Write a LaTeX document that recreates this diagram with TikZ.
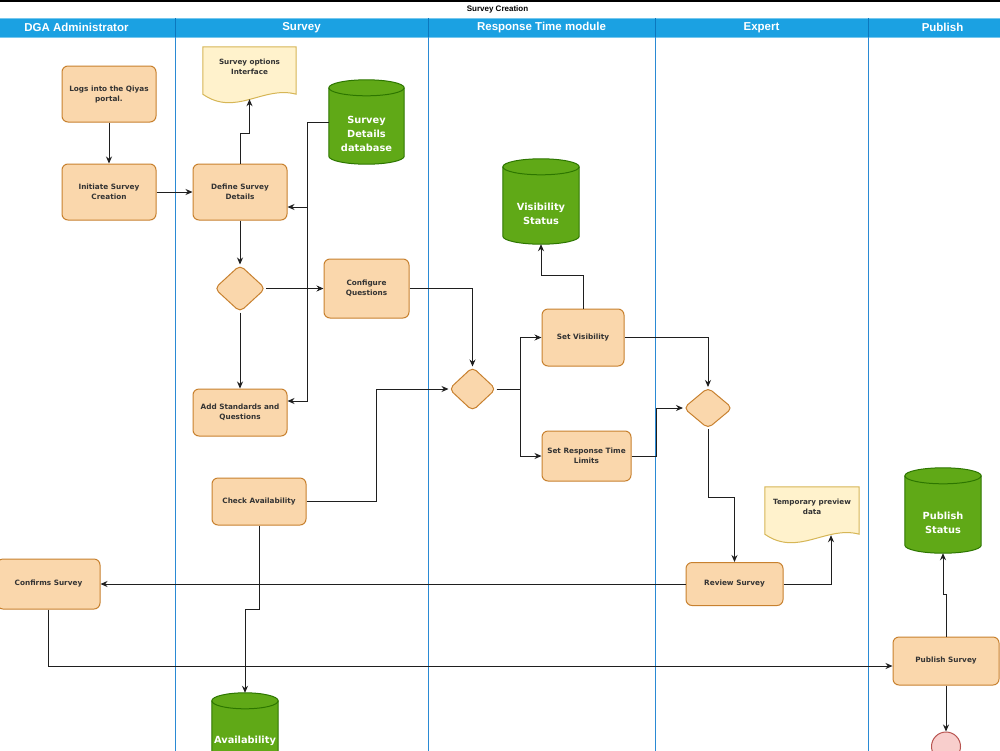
\documentclass[tikz,border=0pt]{standalone}
\usepackage{fontspec}
\setmainfont{DejaVu Sans}
\newfontfamily\hdrfont{Liberation Sans}
\usetikzlibrary{arrows.meta,calc,shapes.geometric}
\pgfdeclarelayer{bg}
\pgfsetlayers{bg,main}
\definecolor{orfill}{HTML}{FAD7AC}
\definecolor{orline}{HTML}{C8812F}
\definecolor{docfill}{HTML}{FFF2CC}
\definecolor{docline}{HTML}{D6B656}
\definecolor{grfill}{HTML}{60A917}
\definecolor{grline}{HTML}{2D7600}
\definecolor{hdr}{HTML}{1BA1E2}
\definecolor{hdrdiv}{HTML}{0B78BE}
\definecolor{lane}{HTML}{2A8AD4}
\definecolor{txt}{HTML}{333333}
\definecolor{endfill}{HTML}{F8CECC}
\definecolor{endline}{HTML}{B85450}
\newcommand\mycyl[1]{%
\begin{pgfonlayer}{bg}
\path[fill=grfill, draw=grline, line width=1pt] let \p1=(#1.north west), \p2=(#1.south east), \n1={(\x2-\x1)/2} in
 (\x1,\y1-8pt) -- (\x1,\y2+8pt) arc[start angle=180,end angle=360,x radius=\n1,y radius=8pt]
 -- (\x2,\y1-8pt) arc[start angle=0,end angle=180,x radius=\n1,y radius=8pt] -- cycle;
\draw[grline, line width=1pt] let \p1=(#1.north west), \p2=(#1.south east), \n1={(\x2-\x1)/2} in
 (\x1,\y1-8pt) arc[start angle=180,end angle=360,x radius=\n1,y radius=8pt];
\end{pgfonlayer}}
\newcommand\mydoc[1]{%
\begin{pgfonlayer}{bg}
\draw[fill=docfill, draw=docline, line width=1pt] (#1.north west) -- (#1.north east) -- ($(#1.south east)+(0,-9)$)
 .. controls ($(#1.south east)+(-33,-18)$) and ($(#1.south west)+(33,14)$) .. ($(#1.south west)+(0,-9)$) -- cycle;
\end{pgfonlayer}}
\tikzset{
 sz/.style 2 args={minimum width=#1pt, minimum height=#2pt},
 proc/.style={rectangle, rounded corners=6pt, draw=orline, fill=orfill, line width=1pt, text=txt,
   font=\fontsize{7.3}{10}\selectfont\bfseries, align=center, inner sep=0pt},
 dec/.style={diamond, draw=orline, fill=orfill, line width=1pt, rounded corners=5pt, inner sep=0pt},
 cylbox/.style={rectangle, inner sep=0pt},
 cyltext/.style={text=white, font=\fontsize{9.8}{13.8}\selectfont\bfseries, align=center, yshift=-12pt},
 docbox/.style={rectangle, inner sep=0pt},
 doctext/.style={text=txt, font=\fontsize{7.2}{9.5}\selectfont\bfseries, align=center, yshift=8pt},
 hdrtext/.style={text=white, font=\hdrfont\fontsize{11.5}{13}\selectfont\bfseries},
 titletext/.style={text=black, font=\hdrfont\fontsize{8}{10}\selectfont\bfseries},
 arr/.style={draw=black!88, line width=0.9pt, -{Stealth[length=7pt,width=6pt]}},
 lanel/.style={draw=lane, line width=0.9pt},
}
\begin{document}
\begin{tikzpicture}[x=1pt,y=-1pt]
\useasboundingbox (0,0) rectangle (1000,750);
\begin{pgfonlayer}{bg}
 \fill[white] (0,0) rectangle (1000,750);
 \draw[black, line width=1.2pt] (-5,1) -- (1005,1);
 \fill[hdr] (-22,18) rectangle (1017,37);
 \draw[hdr!60!white, line width=0.8pt] (-22,18) -- (1017,18) (-22,37) -- (1017,37);
 \foreach \lx in {175,428,655,868} {
   \draw[hdrdiv, line width=0.9pt] (\lx,18) -- (\lx,37);
   \draw[lanel] (\lx,37) -- (\lx,760);
 }
\end{pgfonlayer}

\node[titletext] (title) at (497.5,9) {Survey Creation};
\node[hdrtext] (h1) at (76.5,27.5) {DGA Administrator};
\node[hdrtext] (h2) at (301.5,27.5) {Survey};
\node[hdrtext] (h3) at (541.5,27.5) {Response Time module};
\node[hdrtext] (h4) at (761.5,27.5) {Expert};
\node[hdrtext] (h5) at (942.5,27.5) {Publish};

% process nodes
\node[proc, sz={94}{56}] (logs) at (109,94) {Logs into the Qiyas\\portal.};
\node[proc, sz={94}{56}] (init) at (109,192) {Initiate Survey\\Creation};
\node[proc, sz={94}{56}] (define) at (240,192) {Define Survey\\Details};
\node[dec, sz={51}{47}] (d1) at (240,288.5) {};
\node[proc, sz={85}{59}] (confq) at (366.5,288.5) {Configure\\Questions};
\node[proc, sz={94}{47}] (addstd) at (240,412.5) {Add Standards and\\Questions};
\node[proc, sz={94}{47}] (check) at (259,501.5) {Check Availability};
\node[proc, sz={82}{57}] (setvis) at (583,337.5) {Set Visibility};
\node[proc, sz={89}{50}] (setrt) at (586.5,456) {Set Response Time\\Limits};
\node[dec, sz={47}{44}] (d2) at (472.5,389) {};
\node[dec, sz={49}{41}] (d3) at (708,408) {};
\node[proc, sz={97}{43}] (review) at (734.5,584) {Review Survey};
\node[proc, sz={103}{50}] (confirms) at (48.5,584) {Confirms Survey};
\node[proc, sz={106}{48}] (pubsurvey) at (946,661) {Publish Survey};
\node[circle, draw=endline, fill=endfill, line width=1pt, minimum size=29pt, inner sep=0pt] (endc) at (946,746.5) {};

% documents
\node[docbox, sz={93}{56}, label={[doctext]center:Survey options\\Interface}] (soi) at (249.5,75) {};
\mydoc{soi}
\node[docbox, sz={94}{56}, label={[doctext]center:Temporary preview\\data}] (tmp) at (812,515) {};
\mydoc{tmp}

% cylinders
\node[cylbox, sz={75}{84}, label={[cyltext]center:Survey\\Details\\database}] (svdb) at (366.5,122) {};
\mycyl{svdb}
\node[cylbox, sz={76}{85}, label={[cyltext]center:Visibility\\Status}] (vis) at (541,201.5) {};
\mycyl{vis}
\node[cylbox, sz={76}{85}, label={[cyltext]center:Publish\\Status}] (pubstat) at (943,510.5) {};
\mycyl{pubstat}
\node[cylbox, sz={66}{84}, label={[cyltext, yshift=6pt]center:Availability}] (avail) at (245,735) {};
\mycyl{avail}

% connectors
\draw[arr] (logs) -- (init);
\draw[arr] (init) -- (define);
\draw[arr] (define.north) -- ++(0,-30) -| ($(soi.south)+(0,-4)$);
\draw[arr] (svdb.west) -- ++(-21,0) |- ($(define.east)+(0,15)$);
\draw[arr] (svdb.west) -- ++(-21,0) |- ($(addstd.east)+(0,-11.5)$);
\draw[arr] (define) -- (d1);
\draw[arr] (d1) -- (confq);
\draw[arr] (d1) -- (addstd);
\draw[arr] (confq.east) -| (d2.north);
\draw[arr] (check.east) -- ++(70,0) |- (d2.west);
\draw[arr] (d2.east) -- ++(23.5,0) |- (setvis.west);
\draw[arr] (d2.east) -- ++(23.5,0) |- (setrt.west);
\draw[arr] (setvis.north) -- ++(0,-33) -| (vis.south);
\draw[arr] (setvis.east) -| (d3.north);
\draw[arr] (setrt.east) -- ++(25,0) |- (d3.west);
\draw[arr] (d3.south) -- ++(0,68.5) -| (review.north);
\draw[arr] (review.east) -| ($(tmp.south)+(19,-8)$);
\draw[arr] (review.west) -- (confirms.east);
\draw[arr] ($(confirms.south)+(-0.5,0)$) |- ($(pubsurvey.west)+(0,5)$);
\draw[arr] (check.south) -- ++(0,84) -| (avail.north);
\draw[arr] (pubsurvey.north) -- ++(0,-42) -| (pubstat.south);
\draw[arr] (pubsurvey.south) -- (endc.north);
\end{tikzpicture}
\end{document}
